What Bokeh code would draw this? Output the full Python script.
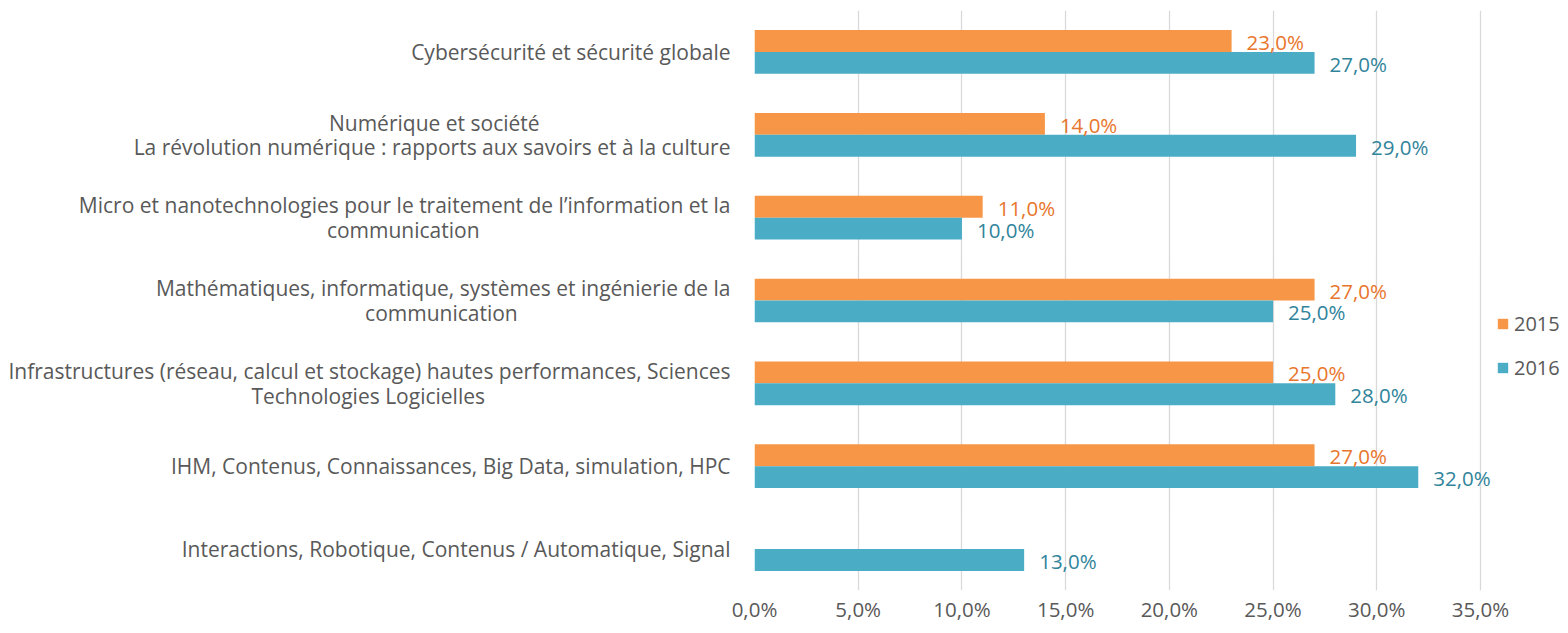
from bokeh.plotting import figure
from bokeh.models import (FactorRange, ColumnDataSource, LabelSet, Legend,
                          LegendItem, FixedTicker, Range1d)
from bokeh.transform import dodge
from bokeh.core.properties import value
from bokeh.embed import file_html
from bokeh.resources import INLINE

NB = "\u00a0"
# label lines; the shorter line of a two-line label is padded so that it sits
# centred under/over the longer one (axis labels are right-aligned per line)
categories = [
    "Cybersécurité et sécurité globale",
    "Numérique et société" + NB * 35 + "\nLa révolution numérique : rapports aux savoirs et à la culture",
    "Micro et nanotechnologies pour le traitement de l’information et la\ncommunication" + NB * 46,
    "Mathématiques, informatique, systèmes et ingénierie de la\ncommunication" + NB * 39,
    "Infrastructures (réseau, calcul et stockage) hautes performances, Sciences\nTechnologies Logicielles" + NB * 45,
    "IHM, Contenus, Connaissances, Big Data, simulation, HPC",
    "Interactions, Robotique, Contenus / Automatique, Signal",
]
values_2015 = [23, 14, 11, 27, 25, 27, None]
values_2016 = [27, 29, 10, 25, 28, 32, 13]
series_names = ["2015", "2016"]
x_ticks = [0, 5, 10, 15, 20, 25, 30, 35]
tick_labels = ["0,0%", "5,0%", "10,0%", "15,0%", "20,0%", "25,0%", "30,0%", "35,0%"]

FONT = "Open Sans"
TXT = "#595959"
C15, C16 = "#F79646", "#4BACC6"
T15, T16 = "#E8762D", "#31849B"

W, H = 1560, 625
LEFT, BOTTOM = 754, 34
AXIS_PX = 726  # pixels spanned by 0..35 %


def fmt(v):
    return ("%.1f" % v).replace(".", ",") + "%"


def make_source(vals):
    cats = [c for c, v in zip(categories, vals) if v is not None]
    vs = [v for v in vals if v is not None]
    return ColumnDataSource(dict(cat=cats, v=vs, lab=[fmt(v) for v in vs]))


src15 = make_source(values_2015)
src16 = make_source(values_2016)

x_end = x_ticks[-1] * (W - LEFT) / AXIS_PX
p = figure(width=W, height=H,
           x_range=Range1d(0, x_end),
           y_range=FactorRange(factors=list(reversed(categories))),
           output_backend="svg", toolbar_location=None,
           min_border_left=LEFT, min_border_right=0,
           min_border_top=10, min_border_bottom=BOTTOM)
p.outline_line_color = None

off = 0.132
h = 0.264
r15 = p.hbar(y=dodge("cat", off, range=p.y_range), right="v", left=0, height=h,
             source=src15, fill_color=C15, line_color=None)
r16 = p.hbar(y=dodge("cat", -off, range=p.y_range), right="v", left=0, height=h,
             source=src16, fill_color=C16, line_color=None)

for src, o, col in ((src15, off, T15), (src16, -off, T16)):
    p.add_layout(LabelSet(x="v", y=dodge("cat", o, range=p.y_range), text="lab",
                          source=src, x_offset=15, y_offset=-1, text_align="left",
                          text_baseline="middle", text_color=col,
                          text_font=value(FONT), text_font_size="20.5px"))

# grid
p.ygrid.grid_line_color = None
p.xgrid.ticker = FixedTicker(ticks=x_ticks)
p.xgrid.grid_line_color = "#D9D9D9"
p.xgrid.grid_line_width = 1.3
p.grid.level = "underlay"

# x axis
xa = p.xaxis[0]
xa.ticker = FixedTicker(ticks=x_ticks)
xa.major_label_overrides = {t: l for t, l in zip(x_ticks, tick_labels)}
xa.axis_line_color = None
xa.major_tick_line_color = None
xa.minor_tick_line_color = None
xa.major_tick_out = 0
xa.major_label_standoff = 4
xa.major_label_text_font = FONT
xa.major_label_text_font_size = "20.5px"
xa.major_label_text_color = TXT

# y axis
ya = p.yaxis[0]
ya.axis_line_color = None
ya.major_tick_line_color = None
ya.minor_tick_line_color = None
ya.major_tick_out = 0
ya.major_label_standoff = 24
ya.major_label_text_font = FONT
ya.major_label_text_font_size = "21px"
ya.major_label_text_color = TXT
ya.major_label_text_line_height = 0.87

legend = Legend(items=[LegendItem(label=series_names[0], renderers=[r15]),
                       LegendItem(label=series_names[1], renderers=[r16])],
                location=(742, 209), orientation="vertical",
                padding=0, margin=0, spacing=17,
                glyph_width=13, glyph_height=13, label_standoff=5,
                label_text_font=FONT, label_text_font_size="20px",
                label_text_color=TXT,
                border_line_color=None, background_fill_alpha=0)
p.add_layout(legend)

open("out.html", "w").write(file_html(p, INLINE))
